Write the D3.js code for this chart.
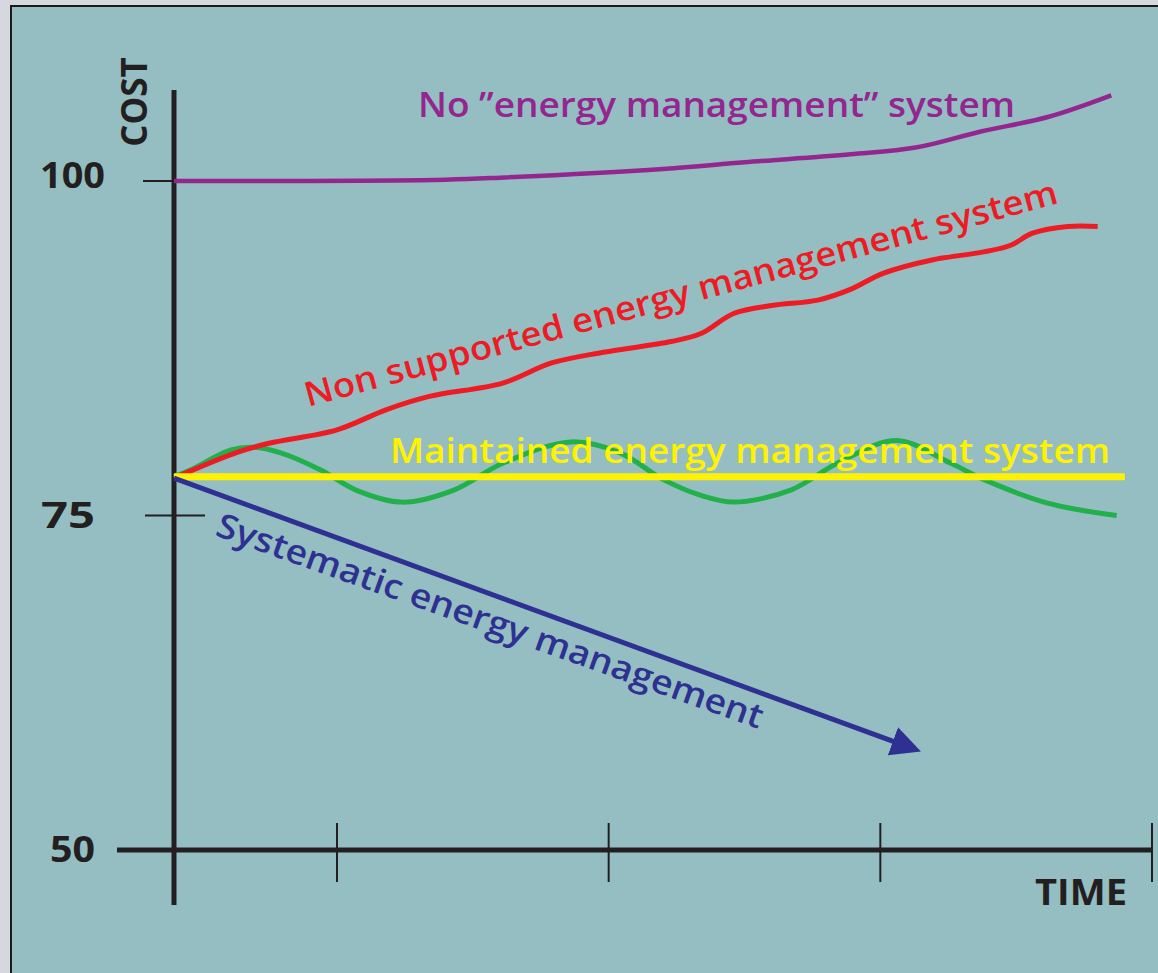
<!DOCTYPE html>
<html>
<head>
<meta charset="utf-8">
<script src="https://cdn.jsdelivr.net/npm/d3@7"></script>
<style>
  body { margin: 0; background: #d5d9df; }
  svg { display: block; }
  text { font-family: "Open Sans", "Noto Sans", sans-serif; }
</style>
</head>
<body>
<svg id="chart" width="1158" height="973"></svg>
<script>
// values: [time, cost]
const noSystem = [[0, 100], [3, 100], [10, 100.1], [12, 100.25], [18, 100.9], [21, 101.4],
  [24.9, 102.0], [27.3, 102.5], [29.7, 103.7], [32.2, 104.8], [34.5, 106.4]];
const nonSupported = [[0, 77.8], [2.3, 79.7], [3.5, 80.4], [6.0, 81.4], [7.8, 82.9], [9.4, 83.9],
  [12.1, 84.9], [13.9, 86.4], [15.8, 87.2], [18.3, 88.0], [19.4, 88.6], [20.6, 90.1],
  [22.0, 90.7], [23.7, 91.1], [24.9, 91.9], [26.1, 93.1], [27.9, 94.1], [29.8, 94.7],
  [30.8, 95.2], [31.6, 96.1], [32.9, 96.6], [34.0, 96.6]];
const oscillating = [[0, 77.9], [0.6, 78.4], [2.1, 79.9], [2.9, 80.1], [3.9, 79.7], [5.4, 78.4],
  [6.7, 76.9], [8.4, 76.0], [10.3, 76.9], [12.1, 78.9], [14.6, 80.5], [16.4, 79.7],
  [18.0, 77.7], [19.4, 76.5], [20.6, 76.0], [22.7, 76.9], [24.5, 79.0], [26.6, 80.6],
  [28.6, 78.9], [29.8, 77.7], [32.2, 75.9], [34.7, 75.0]];
const maintained = [[0, 77.9], [35, 77.9]];
const systematic = [[0, 77.8], [26.5, 58.1]];

const costTicks = [100, 75, 50];
const timeTicks = [6, 16, 26, 36];

const svg = d3.select('svg#chart');

// frame
svg.append('rect')
  .attr('x', 11).attr('y', 6)
  .attr('width', 1200).attr('height', 1000)
  .attr('fill', '#95bec2')
  .attr('stroke', '#1a1a1a')
  .attr('stroke-width', 2);

let x = d3.scaleLinear().domain([0, 36]).range([174, 1152]),
  y = d3.scaleLinear().domain([50, 100]).range([850, 181]);

const ink = '#231f20';

// y ticks 75 / 100 (thin, crossing the axis)
svg.selectAll('line.ytick')
  .data(costTicks.filter(d => d > 50))
  .enter()
  .append('line')
  .classed('ytick', true)
  .attr('x1', d => x(0) - (d === 100 ? 31 : 29))
  .attr('x2', x(0) + 31)
  .attr('y1', d => y(d)).attr('y2', d => y(d))
  .attr('stroke', ink).attr('stroke-width', 2);

// x ticks
svg.selectAll('line.xtick')
  .data(timeTicks)
  .enter()
  .append('line')
  .classed('xtick', true)
  .attr('x1', d => x(d)).attr('x2', d => x(d))
  .attr('y1', y(50) - 27).attr('y2', y(50) + 32)
  .attr('stroke', ink).attr('stroke-width', 2);

// axes
svg.append('line')
  .attr('x1', x(0)).attr('x2', x(0))
  .attr('y1', 90).attr('y2', 905)
  .attr('stroke', ink).attr('stroke-width', 5);
svg.append('line')
  .attr('x1', 117).attr('x2', x(36))
  .attr('y1', y(50)).attr('y2', y(50))
  .attr('stroke', ink).attr('stroke-width', 5);

// tick labels
svg.selectAll('text.ylab')
  .data(costTicks)
  .enter()
  .append('text')
  .classed('ylab', true)
  .attr('x', d => d === 100 ? 40 : (d === 75 ? 41 : 50))
  .attr('y', d => y(d) + (d === 100 ? 7 : 12))
  .attr('font-size', 35)
  .attr('font-weight', 700)
  .attr('textLength', d => d === 100 ? 65 : (d === 75 ? 54 : 45))
  .attr('lengthAdjust', 'spacingAndGlyphs')
  .attr('fill', ink)
  .text(d => d);

svg.append('text')
  .attr('transform', 'translate(147,102) rotate(-90)')
  .attr('text-anchor', 'middle')
  .attr('font-size', 35).attr('font-weight', 700)
  .attr('fill', ink)
  .text('COST');

svg.append('text')
  .attr('x', 1035).attr('y', 905)
  .attr('font-size', 35).attr('font-weight', 700)
  .attr('textLength', 92).attr('lengthAdjust', 'spacingAndGlyphs')
  .attr('fill', ink)
  .text('TIME');

// curves
const line = d3.line()
  .x(d => x(d[0]))
  .y(d => y(d[1]))
  .curve(d3.curveCatmullRom.alpha(0.5));

const series = [
  {data: oscillating, color: '#22b04b', width: 5},
  {data: nonSupported, color: '#ed1c24', width: 5},
  {data: noSystem, color: '#93278f', width: 4.5},
  {data: maintained, color: '#fff200', width: 7}
];

svg.selectAll('path.series')
  .data(series)
  .enter()
  .append('path')
  .classed('series', true)
  .attr('d', d => line(d.data))
  .attr('fill', 'none')
  .attr('stroke', d => d.color)
  .attr('stroke-width', d => d.width);

// arrow for systematic management
svg.append('defs').append('marker')
  .attr('id', 'head')
  .attr('markerUnits', 'userSpaceOnUse')
  .attr('markerWidth', 32).attr('markerHeight', 32)
  .attr('viewBox', '0 -15 30 30')
  .attr('refX', 1).attr('refY', 0)
  .attr('orient', 'auto')
  .append('path')
  .attr('d', 'M0,-14L28,0L0,14Z')
  .attr('fill', '#2e3192');

svg.append('path')
  .attr('d', d3.line().x(d => x(d[0])).y(d => y(d[1]))(systematic))
  .attr('fill', 'none')
  .attr('stroke', '#2e3192')
  .attr('stroke-width', 5)
  .attr('marker-end', 'url(#head)');

// labels
function label(text, color, transform, len) {
  svg.append('text')
    .attr('transform', transform)
    .attr('font-size', 34)
    .attr('font-weight', 600)
    .attr('fill', color)
    .attr('textLength', len)
    .attr('lengthAdjust', 'spacingAndGlyphs')
    .text(text);
}

label('No \u201Denergy management\u201D system', '#93278f', 'translate(418,117)', 597);
label('Non supported energy management system', '#ed1c24', 'translate(308,407) rotate(-15.2)', 779);
label('Maintained energy management system', '#fff200', 'translate(390,463)', 720);
label('Systematic energy management', '#2e3192', 'translate(214,535) rotate(19.6)', 578);
</script>
</body>
</html>
